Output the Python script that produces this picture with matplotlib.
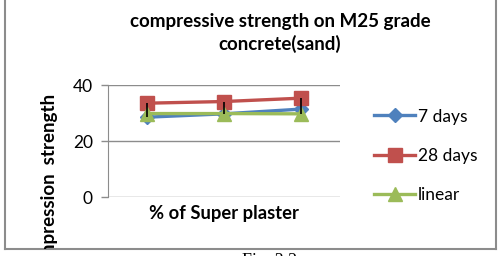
import matplotlib
matplotlib.use("Agg")
import matplotlib.pyplot as plt
import numpy as np

# data
positions = [1, 2, 3]
series_names = ["7 days", "28 days", "linear"]
days7 = [28.5, 29.7, 31.4]
days28 = [33.5, 34.1, 35.3]
linear = [29.8, 29.8, 29.7]
y_ticks = [0, 20, 40]

title = "compressive strength on M25 grade\nconcrete(sand)"
x_label = "% of Super plaster"
y_label = "compression  strength"

plt.rcParams["font.family"] = ["Lato", "DejaVu Sans"]

W, H = 503, 256
fig = plt.figure(figsize=(W / 100, H / 100), dpi=100)

# outer chart frame (top edge falls outside the image)
bg = fig.add_axes([5 / W, (H - 249) / H, (496 - 5) / W, 249 / H + 0.1])
bg.set_xticks([])
bg.set_yticks([])
bg.patch.set_alpha(0)
for side in ["left", "right", "bottom"]:
    bg.spines[side].set_color("#8c8c8c")
    bg.spines[side].set_linewidth(1.5)
bg.spines["top"].set_visible(False)

# y label, clipped by the frame
bg.text(50 / W, (H - 186) / H, y_label, transform=fig.transFigure, rotation=90,
        ha="center", va="center", fontsize=13.5, fontweight="bold", clip_on=True)

ax = fig.add_axes([108 / W, (H - 197) / H, (340 - 108) / W, (197 - 85) / H])
ax.set_xlim(0.5, 3.5)
ax.set_ylim(0, 40)
ax.set_yticks(y_ticks)
ax.set_xticks([])
ax.tick_params(axis="y", labelsize=12.5, length=5, width=1, color="#8c8c8c", pad=6)
ax.grid(axis="y", color="#8c8c8c", linewidth=1)
ax.set_axisbelow(True)
for side in ["top", "right", "bottom"]:
    ax.spines[side].set_visible(False)
ax.spines["left"].set_color("#8c8c8c")

ax.plot(positions, days7, color="#4F81BD", lw=2.4, marker="D", ms=7.5, label=series_names[0], clip_on=False)
ax.plot(positions, days28, color="#C0504D", lw=2.4, marker="s", ms=10.5, label=series_names[1], clip_on=False)
ax.plot(positions, linear, color="#9BBB59", lw=2.4, marker="^", ms=10.5, label=series_names[2], clip_on=False)

# high-low lines
stack = np.array([days7, days28, linear])
ax.vlines(positions, stack.min(axis=0), stack.max(axis=0), color="black", lw=1.2, zorder=5)

ax.text(0.5, -0.145, x_label, transform=ax.transAxes, ha="center", va="center",
        fontsize=13.2, fontweight="bold")

fig.text(280 / W, (H - 33) / H, title, ha="center", va="center", fontsize=13.5,
         fontweight="bold", linespacing=1.28)

leg = ax.legend(loc="center left", bbox_to_anchor=(365 / W, (H - 156) / H),
                bbox_transform=fig.transFigure, frameon=False, fontsize=12.5,
                handlelength=2.4, handletextpad=0.15, labelspacing=1.35,
                borderpad=0)

fig.text(270 / W, (H - 253) / H, "Fig. 3.2", ha="center", va="top", fontsize=13,
         family="Liberation Serif")

fig.savefig("out.png", dpi=100)
